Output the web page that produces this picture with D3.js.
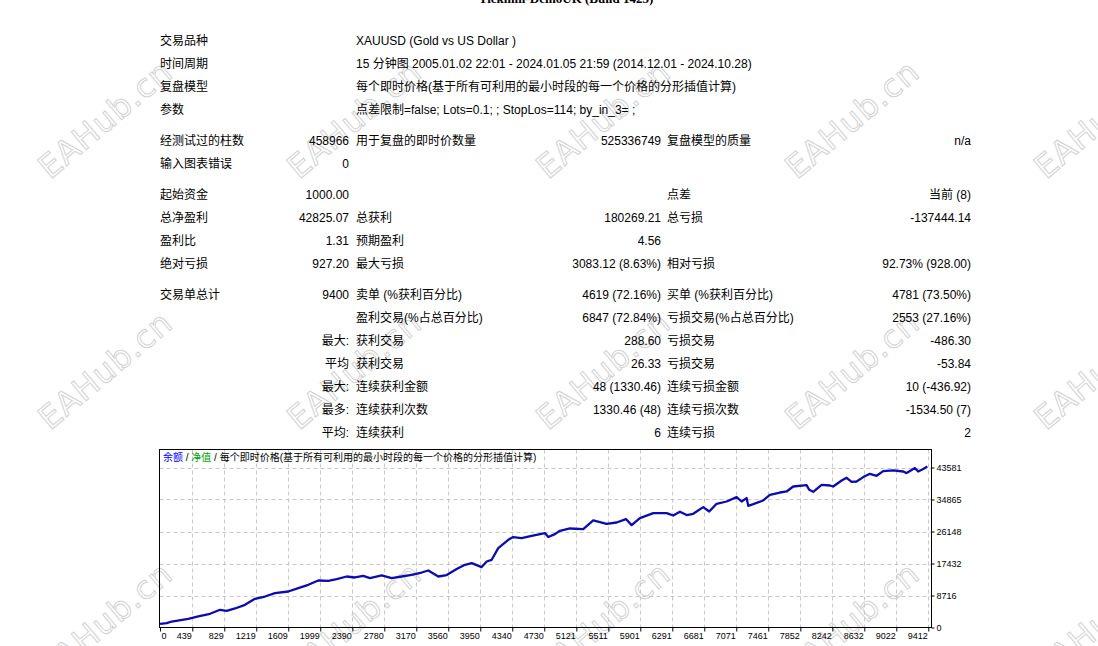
<!DOCTYPE html>
<html>
<head>
<meta charset="utf-8">
<script src="https://cdn.jsdelivr.net/npm/d3@7"></script>
<style>
  html, body { margin: 0; padding: 0; background: #fff; overflow: hidden; }
  svg { display: block; }
  text { font-family: "Liberation Sans", "Noto Sans CJK SC", sans-serif; }
</style>
</head>
<body>
<svg id="report" width="1098" height="646"></svg>
<script>
/* ── report text ── */
const reportTitle = "Tickmill-DemoUK (Build 1425)";

const headerRows = [
  ["交易品种", "XAUUSD (Gold vs US Dollar )"],
  ["时间周期", "15 分钟图 2005.01.02 22:01 - 2024.01.05 21:59 (2014.12.01 - 2024.10.28)"],
  ["复盘模型", "每个即时价格(基于所有可利用的最小时段的每一个价格的分形插值计算)"],
  ["参数", "点差限制=false; Lots=0.1; ; StopLos=114; by_in_3= ;"]
];

const testRows = [
  ["经测试过的柱数", "458966", "用于复盘的即时价数量", "525336749", "复盘模型的质量", "n/a"],
  ["输入图表错误", "0", "", "", "", ""]
];

const profitRows = [
  ["起始资金", "1000.00", "", "", "点差", "当前 (8)"],
  ["总净盈利", "42825.07", "总获利", "180269.21", "总亏损", "-137444.14"],
  ["盈利比", "1.31", "预期盈利", "4.56", "", ""],
  ["绝对亏损", "927.20", "最大亏损", "3083.12 (8.63%)", "相对亏损", "92.73% (928.00)"]
];

const tradeRows = [
  ["交易单总计", "9400", "卖单 (%获利百分比)", "4619 (72.16%)", "买单 (%获利百分比)", "4781 (73.50%)"],
  ["", "", "盈利交易(%占总百分比)", "6847 (72.84%)", "亏损交易(%占总百分比)", "2553 (27.16%)"],
  ["", "最大:", "获利交易", "288.60", "亏损交易", "-486.30"],
  ["", "平均", "获利交易", "26.33", "亏损交易", "-53.84"],
  ["", "最大:", "连续获利金额", "48 (1330.46)", "连续亏损金额", "10 (-436.92)"],
  ["", "最多:", "连续获利次数", "1330.46 (48)", "连续亏损次数", "-1534.50 (7)"],
  ["", "平均:", "连续获利", "6", "连续亏损", "2"]
];

/* ── chart data ── */
const legendLabels = ["余额", "净值", "每个即时价格(基于所有可利用的最小时段的每一个价格的分形插值计算)"];
const xTickLabels = [0, 439, 829, 1219, 1609, 1999, 2390, 2780, 3170, 3560, 3950, 4340, 4730,
                     5121, 5511, 5901, 6291, 6681, 7071, 7461, 7852, 8242, 8632, 9022, 9412];
const yTickLabels = [0, 8716, 17432, 26148, 34865, 43581];

const tradeNo = [
  0, 91, 159, 384, 512, 655, 777, 858, 960, 1081,
  1203, 1325, 1447, 1609, 1731, 1853, 1975, 2097, 2199, 2321,
  2422, 2523, 2605, 2748, 2870, 2992, 3113, 3235, 3316, 3438,
  3540, 3662, 3763, 3845, 3967, 4028, 4089, 4169, 4291, 4352,
  4454, 4576, 4738, 4779, 4860, 4921, 5043, 5205, 5327, 5490,
  5612, 5726, 5795, 5896, 6059, 6222, 6302, 6384, 6466, 6546,
  6668, 6741, 6831, 6953, 7075, 7136, 7197, 7217, 7278, 7399,
  7481, 7603, 7685, 7765, 7928, 7960, 8009, 8111, 8213, 8253,
  8355, 8416, 8477, 8538, 8619, 8700, 8782, 8862, 8984, 9106,
  9148, 9249, 9289, 9350, 9400
];
const balance = [
  1000, 1200, 1630, 2370, 3000, 3730, 4820, 4550, 5180, 6180,
  7820, 8440, 9370, 9810, 10730, 11630, 12800, 12720, 13180, 13890,
  13620, 14080, 13460, 14170, 13460, 13890, 14360, 14980, 15530, 13890,
  14270, 15910, 17080, 17540, 16450, 17980, 18440, 21630, 23890, 24630,
  24350, 24980, 25720, 24630, 25440, 26340, 26970, 26800, 29150, 28250,
  28600, 29530, 27890, 29800, 31160, 31160, 30510, 31520, 30620, 30970,
  32800, 31600, 33700, 34320, 35520, 34320, 35250, 33150, 33610, 34600,
  36150, 36770, 37050, 38410, 38790, 37510, 36970, 38870, 38680, 38410,
  40040, 40780, 39690, 39770, 40970, 41870, 41320, 42600, 42770, 42490,
  42060, 43420, 42490, 43150, 43825
];

/* ── layout ── */
const svg = d3.select("#report");

/* watermark, behind everything */
const gMark = svg.append("g");
d3.range(3).forEach(r => {
  d3.range(5).forEach(c => {
    gMark.append("text")
      .attr("transform", `translate(${50 + c * 249},${180 + r * 251}) rotate(-40)`)
      .attr("font-size", 32).attr("letter-spacing", 1)
      .style("font-family", "'DejaVu Sans', sans-serif")
      .attr("fill", "none").attr("stroke", "#d2d2d2").attr("stroke-width", 1)
      .text("EAHub.cn");
  });
});

/* title (cut off at the top edge) */
svg.append("text")
  .attr("x", 566).attr("y", 3)
  .attr("text-anchor", "middle")
  .style("font-family", "'Liberation Serif', serif")
  .attr("font-weight", "bold").attr("font-size", 13)
  .text(reportTitle);

/* table */
const colX = [160, 349, 356, 661, 667, 971];
const colAnchor = ["start", "end", "start", "end", "start", "end"];
const rowH = 23, groupGap = 8;
const gTable = svg.append("g").attr("font-size", 12).attr("fill", "#000");

let rowY = 41;
headerRows.forEach(row => {
  gTable.append("text").attr("x", colX[0]).attr("y", rowY).attr("dy", "0.35em").text(row[0]);
  gTable.append("text").attr("x", colX[2]).attr("y", rowY).attr("dy", "0.35em").text(row[1]);
  rowY += rowH;
});

[testRows, profitRows, tradeRows].forEach(group => {
  rowY += groupGap;
  group.forEach(row => {
    row.forEach((cell, i) => {
      if (!cell) return;
      gTable.append("text")
        .attr("x", colX[i]).attr("y", rowY).attr("dy", "0.35em")
        .attr("text-anchor", colAnchor[i])
        .text(cell);
    });
    rowY += rowH;
  });
});

/* ── chart ── */
const box = { left: 159.5, right: 931.5, top: 449.5, bottom: 627.5 };

const x = d3.scaleLinear()
  .domain([0, xTickLabels[1], xTickLabels[xTickLabels.length - 1]])
  .range([box.left + 0.5, 192.3, 928.3]);
const y = d3.scaleLinear()
  .domain([0, yTickLabels[yTickLabels.length - 1]])
  .range([box.bottom, 467.5]);

const gChart = svg.append("g");

/* dashed grid */
const grid = gChart.append("g").attr("stroke", "#c8c8c8").attr("stroke-dasharray", "4,3").attr("stroke-width", 1);
xTickLabels.slice(1).forEach(v => {
  const px = Math.round(x(v)) + 0.5;
  grid.append("line").attr("x1", px).attr("x2", px).attr("y1", box.top).attr("y2", box.bottom);
});
yTickLabels.slice(1).forEach(v => {
  const py = Math.round(y(v)) + 0.5;
  grid.append("line").attr("x1", box.left).attr("x2", box.right).attr("y1", py).attr("y2", py);
});

/* balance line */
const series = tradeNo.map((t, i) => [t, balance[i]]);
const line = d3.line().x(d => x(d[0])).y(d => y(d[1]));
gChart.append("path")
  .datum(series)
  .attr("fill", "none")
  .attr("stroke", "#0b0bb0")
  .attr("stroke-width", 2.3)
  .attr("stroke-linejoin", "round")
  .attr("d", line);

/* frame */
gChart.append("rect")
  .attr("x", box.left).attr("y", box.top)
  .attr("width", box.right - box.left).attr("height", box.bottom - box.top)
  .attr("fill", "none").attr("stroke", "#000").attr("stroke-width", 1);

/* axes */
const xAxis = d3.axisBottom(x).tickValues(xTickLabels).tickFormat(d3.format("d"))
  .tickSize(4).tickSizeOuter(0).tickPadding(2);
const gx = gChart.append("g").attr("transform", `translate(0,${box.bottom})`).call(xAxis);
gx.select(".domain").remove();
gx.selectAll("text")
  .attr("font-size", 9).attr("fill", "#000")
  .style("font-family", "'Liberation Sans', sans-serif")
  .attr("text-anchor", d => d === 0 ? "start" : "end")
  .attr("x", d => d === 0 ? 1 : -1)
  .attr("dy", "0.6em");
gx.selectAll(".tick line").attr("stroke", "#000");

const yAxis = d3.axisRight(y).tickValues(yTickLabels).tickFormat(d3.format("d"))
  .tickSize(3).tickSizeOuter(0).tickPadding(2);
const gy = gChart.append("g").attr("transform", `translate(${box.right},0)`).call(yAxis);
gy.select(".domain").remove();
gy.selectAll("text")
  .attr("font-size", 9).attr("fill", "#000")
  .style("font-family", "'Liberation Sans', sans-serif");
gy.selectAll(".tick line").attr("stroke", "#000");

/* legend line inside the chart */
const legend = gChart.append("text")
  .attr("x", 163).attr("y", 457).attr("dy", "0.35em")
  .attr("font-size", 10);
legend.append("tspan").attr("fill", "#0000ff").text(legendLabels[0]);
legend.append("tspan").attr("fill", "#000").text(" / ");
legend.append("tspan").attr("fill", "#00a000").text(legendLabels[1]);
legend.append("tspan").attr("fill", "#000").text(" / " + legendLabels[2]);
</script>
</body>
</html>
